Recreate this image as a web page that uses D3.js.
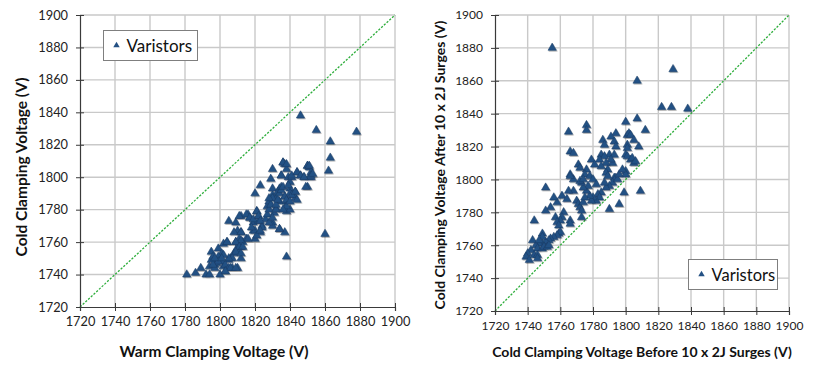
<!DOCTYPE html>
<html>
<head>
<meta charset="utf-8">
<script src="https://cdn.jsdelivr.net/npm/d3@7"></script>
<style>
  html, body { margin: 0; padding: 0; background: #fff; }
  svg { display: block; font-family: Lato, "Open Sans", sans-serif; }
</style>
</head>
<body>
<svg id="chart" width="814" height="370"></svg>
<script>
(function () {
  'use strict';

  var tickValues = [1720, 1740, 1760, 1780, 1800, 1820, 1840, 1860, 1880, 1900];
  var legendLabel = 'Varistors';

  // left panel: warm vs cold clamping voltage
  var warmX = [1846, 1855, 1863, 1878, 1863, 1862, 1860, 1838, 1837, 1834,
    1781, 1786, 1789, 1792, 1794, 1800, 1807, 1810, 1795, 1799, 1794, 1797, 1798, 1800, 1801, 1802, 1803,
    1802, 1804, 1805, 1806, 1808, 1809, 1812, 1805, 1809, 1810, 1812, 1809, 1811, 1810, 1812, 1813, 1815,
    1812, 1816, 1817, 1819, 1820, 1819, 1821, 1822, 1822, 1824, 1823, 1820, 1823, 1826, 1827, 1827, 1828,
    1830, 1829, 1830, 1830, 1830, 1830, 1831, 1832, 1832, 1833, 1834, 1834, 1835, 1836, 1837, 1838, 1835,
    1837, 1838, 1838, 1837, 1839, 1840, 1840, 1841, 1840, 1842, 1843, 1843, 1840, 1844, 1846, 1848, 1850,
    1851, 1851, 1852, 1852, 1850,
    1795, 1797, 1796, 1799, 1801, 1803, 1805, 1804, 1811, 1808, 1812, 1811, 1812, 1809, 1811, 1813, 1816,
    1809, 1812, 1807, 1806, 1809, 1803, 1805, 1802, 1799, 1796, 1797, 1801, 1815, 1817, 1819, 1820, 1821,
    1818, 1821, 1822, 1823, 1824, 1823, 1828, 1830, 1828, 1829, 1830, 1828, 1832, 1832, 1833, 1834, 1835,
    1836, 1837, 1838, 1838, 1836, 1834, 1835, 1836, 1838, 1839, 1841, 1841, 1843, 1844, 1840, 1844, 1846,
    1848, 1850, 1851, 1849, 1852, 1853];
  var coldY = [1838, 1829, 1822, 1828, 1812, 1804, 1765, 1751, 1766, 1768,
    1740, 1741, 1744, 1740, 1740, 1740, 1744, 1744, 1754, 1756, 1745, 1746, 1747, 1750, 1753, 1745, 1742,
    1759, 1760, 1749, 1750, 1753, 1755, 1750, 1773, 1772, 1767, 1766, 1760, 1759, 1755, 1757, 1760, 1762,
    1776, 1777, 1775, 1767, 1762, 1772, 1779, 1776, 1773, 1770, 1766, 1790, 1795, 1774, 1777, 1782, 1785,
    1789, 1799, 1793, 1772, 1770, 1805, 1778, 1781, 1787, 1791, 1793, 1785, 1801, 1809, 1808, 1805, 1794,
    1788, 1785, 1779, 1781, 1800, 1797, 1793, 1800, 1790, 1789, 1791, 1787, 1780, 1803, 1801, 1800, 1807,
    1806, 1800, 1803, 1800, 1794,
    1749, 1744, 1751, 1751, 1748, 1746, 1744, 1760, 1776, 1766, 1766, 1762, 1761, 1760, 1757, 1757, 1762,
    1754, 1753, 1750, 1744, 1744, 1742, 1750, 1752, 1748, 1746, 1750, 1750, 1777, 1775, 1774, 1767, 1764,
    1769, 1779, 1776, 1773, 1769, 1767, 1772, 1775, 1780, 1783, 1787, 1787, 1780, 1783, 1786, 1790, 1792,
    1794, 1788, 1786, 1782, 1780, 1768, 1801, 1809, 1808, 1795, 1801, 1789, 1791, 1786, 1785, 1803, 1801,
    1800, 1807, 1807, 1794, 1801, 1802];

  // right panel: before vs after 10 x 2J surges
  var beforeX = [1755, 1829, 1807, 1822, 1828, 1838, 1807, 1800, 1812, 1808, 1803, 1805,
    1801, 1802, 1803, 1805, 1801, 1801, 1800, 1801, 1800, 1800, 1799, 1809, 1790,
    1794, 1791, 1793, 1794, 1790, 1793, 1792, 1791, 1786, 1787, 1785, 1787, 1788, 1789, 1788,
    1784, 1785, 1779, 1781, 1776, 1775, 1778, 1780, 1789, 1793, 1794, 1792, 1790, 1788, 1787,
    1795, 1796, 1785, 1783, 1784, 1782, 1780, 1779, 1778, 1776, 1777, 1774, 1773, 1772, 1774,
    1771, 1772, 1768, 1766, 1766, 1766, 1768, 1765, 1776, 1776, 1768, 1765, 1761, 1764, 1758,
    1756, 1754, 1751, 1751, 1762, 1761, 1760, 1766, 1766, 1757, 1758, 1759, 1770, 1771, 1772,
    1773, 1773, 1774, 1775, 1744, 1759, 1760, 1758, 1756, 1754, 1753, 1751, 1749, 1747, 1745,
    1743, 1746, 1749, 1750, 1749, 1749, 1747, 1742, 1740, 1739, 1741, 1744, 1746, 1746, 1752, 1753,
    1782, 1798, 1796, 1804, 1806];
  var afterY = [1880, 1867, 1860, 1844, 1844, 1843, 1837, 1835, 1830, 1820, 1812, 1810,
    1827, 1828, 1827, 1824, 1821, 1819, 1815, 1814, 1805, 1803, 1792, 1793, 1782,
    1828, 1826, 1823, 1820, 1815, 1815, 1810, 1812, 1824, 1821, 1815, 1814, 1810, 1806, 1804,
    1812, 1808, 1812, 1809, 1806, 1803, 1802, 1800, 1802, 1801, 1801, 1798, 1796, 1795, 1798,
    1800, 1803, 1792, 1791, 1789, 1787, 1789, 1787, 1790, 1793, 1796, 1795, 1798, 1799, 1800,
    1809, 1807, 1800, 1803, 1802, 1817, 1816, 1829, 1833, 1830, 1793, 1793, 1790, 1788, 1786,
    1789, 1783, 1781, 1795, 1780, 1777, 1775, 1775, 1773, 1777, 1774, 1772, 1787, 1785, 1783,
    1777, 1781, 1786, 1789, 1775, 1767, 1768, 1766, 1765, 1764, 1763, 1762, 1761, 1761, 1760,
    1763, 1758, 1758, 1759, 1767, 1765, 1763, 1757, 1755, 1753, 1751, 1754, 1754, 1752, 1759, 1760,
    1797, 1806, 1785, 1813, 1811];

  var svg = d3.select('#chart');

  var defs = svg.append('defs');
  var f = defs.append('filter').attr('id', 'shadow').attr('x', '-50%').attr('y', '-50%').attr('width', '200%').attr('height', '200%');
  f.append('feDropShadow').attr('dx', 0.8).attr('dy', 1).attr('stdDeviation', 0.7).attr('flood-color', '#000').attr('flood-opacity', 0.35);

  function drawPanel(cfg) {
    var x = d3.scaleLinear().domain([1720, 1900]).range([cfg.x0, cfg.x1]);
    var y = d3.scaleLinear().domain([1720, 1900]).range([cfg.y1, cfg.y0]);
    var g = svg.append('g');

    // grid
    g.append('g').selectAll('line.vx').data(tickValues.slice(1)).enter().append('line')
      .attr('x1', function (d) { return x(d); }).attr('x2', function (d) { return x(d); })
      .attr('y1', cfg.y0).attr('y2', cfg.y1)
      .attr('stroke', '#c9c9c9').attr('stroke-width', 1.4);
    g.append('g').selectAll('line.hy').data(tickValues.slice(1)).enter().append('line')
      .attr('x1', cfg.x0).attr('x2', cfg.x1)
      .attr('y1', function (d) { return y(d); }).attr('y2', function (d) { return y(d); })
      .attr('stroke', '#c9c9c9').attr('stroke-width', 1.4);

    // diagonal y = x
    g.append('line')
      .attr('x1', x(1720)).attr('y1', y(1720)).attr('x2', x(1900)).attr('y2', y(1900))
      .attr('stroke', '#2eae3c').attr('stroke-width', 1.3).attr('stroke-dasharray', '2.2,1.5');

    // axes
    var ax = g.append('g').attr('transform', 'translate(0,' + cfg.y1 + ')')
      .call(d3.axisBottom(x).tickValues(tickValues).tickSize(4).tickPadding(6).tickFormat(d3.format('d')));
    ax.selectAll('.tick line').attr('y1', -4).attr('y2', 4);
    var ay = g.append('g').attr('transform', 'translate(' + cfg.x0 + ',0)')
      .call(d3.axisLeft(y).tickValues(tickValues).tickSize(4).tickPadding(8).tickFormat(d3.format('d')));
    ay.selectAll('.tick line').attr('x1', -4).attr('x2', 4);
    [ax, ay].forEach(function (a) {
      a.select('.domain').attr('stroke', '#3a3a3a').attr('stroke-width', 1.2);
      a.selectAll('.tick line').attr('stroke', '#3a3a3a');
      a.selectAll('text').attr('font-family', 'Lato, sans-serif').attr('font-size', cfg.tickFont).attr('fill', '#222');
    });

    // points
    g.append('g').attr('filter', 'url(#shadow)').selectAll('path').data(cfg.xs).enter().append('path')
      .attr('d', d3.symbol().type(d3.symbolTriangle).size(30))
      .attr('transform', function (d, i) { return 'translate(' + x(d) + ',' + y(cfg.ys[i]) + ')'; })
      .attr('fill', '#245184').attr('stroke', '#183a63').attr('stroke-width', 0.5);

    // axis titles
    g.append('text').attr('x', cfg.xtX).attr('y', 357)
      .attr('text-anchor', 'middle').attr('font-size', cfg.titleFont).attr('font-weight', 'bold').attr('fill', '#111')
      .text(cfg.xTitle);
    g.append('text').attr('transform', 'translate(' + cfg.ytX + ',' + cfg.ytY + ') rotate(-90)')
      .attr('text-anchor', 'middle').attr('font-size', cfg.titleFont).attr('font-weight', 'bold').attr('fill', '#111')
      .text(cfg.yTitle);

    // legend
    var lg = g.append('g').attr('transform', 'translate(' + cfg.lx + ',' + cfg.ly + ')');
    lg.append('rect').attr('width', cfg.lw).attr('height', 30)
      .attr('fill', '#fff').attr('stroke', '#7f7f7f').attr('stroke-width', 1);
    lg.append('path').attr('d', d3.symbol().type(d3.symbolTriangle).size(18))
      .attr('transform', 'translate(13,15)').attr('fill', '#245184');
    lg.append('text').attr('x', 23).attr('y', 21).attr('font-size', cfg.legendFont).attr('fill', '#111').text(legendLabel);
  }

  drawPanel({
    x0: 80, x1: 395, y0: 15, y1: 307,
    xs: warmX, ys: coldY,
    tickFont: 12.8, titleFont: 15.5, legendFont: 17,
    xTitle: 'Warm Clamping Voltage (V)', xtX: 214,
    yTitle: 'Cold Clamping Voltage (V)', ytX: 27, ytY: 167,
    lx: 103.5, ly: 30.5, lw: 94
  });

  drawPanel({
    x0: 495, x1: 789, y0: 15, y1: 311,
    xs: beforeX, ys: afterY,
    tickFont: 12, titleFont: 14, legendFont: 16.5,
    xTitle: 'Cold Clamping Voltage Before 10 x 2J Surges (V)', xtX: 642,
    yTitle: 'Cold Clamping Voltage After 10 x 2J Surges (V)', ytX: 445, ytY: 165,
    lx: 688.5, ly: 259.5, lw: 89
  });
})();
</script>
</body>
</html>
